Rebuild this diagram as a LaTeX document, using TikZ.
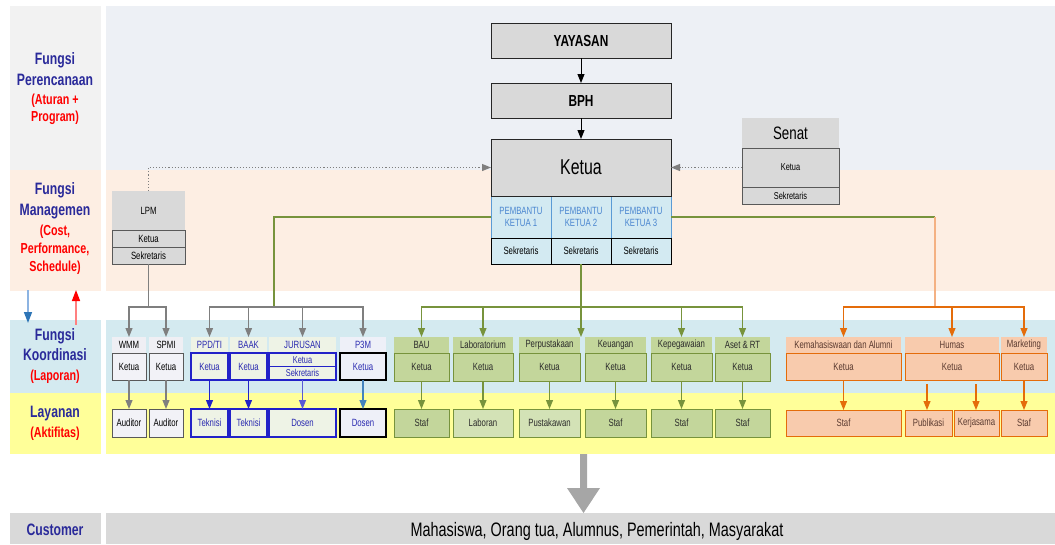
\documentclass[tikz,border=0pt]{standalone}
\usepackage{fontspec}
\setmainfont{Liberation Sans}[FakeStretch=0.74]
\usetikzlibrary{arrows.meta}
\definecolor{bgtop}{HTML}{EDF0F5}
\definecolor{bgleft}{HTML}{F2F2F2}
\definecolor{peach}{HTML}{FDEEE3}
\definecolor{koord}{HTML}{D4EAF0}
\definecolor{yel}{HTML}{FFFF99}
\definecolor{boxgray}{HTML}{D9D9D9}
\definecolor{graydraw}{HTML}{7F7F7F}
\definecolor{lbldark}{HTML}{2A2A9A}
\definecolor{pkblue}{HTML}{5B9BD5}
\definecolor{pkfill}{HTML}{D3EAF2}
\definecolor{pktext}{HTML}{4A86D0}
\definecolor{whfill}{HTML}{EFEFF4}
\definecolor{whbox}{HTML}{F2F2F7}
\definecolor{bfill}{HTML}{EEF3E6}
\definecolor{bdraw}{HTML}{2222C8}
\definecolor{btext}{HTML}{2A2AB0}
\definecolor{pfill}{HTML}{EEF0F8}
\definecolor{olv}{HTML}{77933C}
\definecolor{gfill}{HTML}{C3D69B}
\definecolor{glfill}{HTML}{D3E2B6}
\definecolor{gtext}{HTML}{2B2B2B}
\definecolor{ofill}{HTML}{F8CBAD}
\definecolor{orng}{HTML}{E46C0A}
\definecolor{lorng}{HTML}{F4B183}
\definecolor{otext}{HTML}{5A3A30}
\definecolor{arrblue}{HTML}{2E75B6}
\definecolor{arrbluel}{HTML}{8DB4E2}
\definecolor{arrredl}{HTML}{FF8080}
\definecolor{bigarr}{HTML}{A6A6A6}
\newcommand\mkbox[7]{\node[#6, minimum width={(#4)-(#2)}, minimum height={(#5)-(#3)}] (#1) at ({((#2)+(#4))/2},{((#3)+(#5))/2}) {#7};}
\begin{document}
\begin{tikzpicture}[x=1pt,y=-1pt,
  every node/.style={inner sep=0pt,outer sep=0pt,align=center},
  sm/.style={font=\fontsize{10.5}{12}\selectfont},
  lbl/.style={font=\bfseries\fontsize{16.5}{18}\selectfont,text=lbldark,text height=12pt,text depth=3pt},
  lblr/.style={font=\bfseries\fontsize{14.5}{16}\selectfont,text=red,text height=10.5pt,text depth=3pt},
  grayhdr/.style={fill=boxgray},
  graybox/.style={sm,draw=graydraw!70!black,fill=boxgray,line width=0.9pt},
  topbox/.style={draw=black!85,fill=boxgray,line width=1pt},
  pkbox/.style={draw=pkblue,fill=pkfill,line width=1pt,text=pktext,font=\fontsize{10.5}{12.5}\selectfont},
  skbox/.style={sm,draw=black,fill=pkfill,line width=1pt},
  whdr/.style={sm,fill=whfill},
  wbox/.style={sm,draw=graydraw!70!black,fill=whbox,line width=0.9pt},
  bhdr/.style={sm,fill=bfill,text=btext},
  bbox/.style={sm,draw=bdraw,fill=bfill,text=btext,line width=1.2pt},
  pbox/.style={sm,draw=black,fill=pfill,text=btext,line width=1.2pt},
  ghdr/.style={sm,fill=gfill,text=gtext},
  gbox/.style={sm,draw=olv,fill=gfill,text=gtext,line width=1pt},
  glbox/.style={gbox,fill=glfill},
  ohdr/.style={sm,fill=ofill,text=otext},
  obox/.style={sm,draw=orng,fill=ofill,text=otext,line width=1pt},
  arrowtip/.style={-{Triangle[length=9pt,width=7pt]}},
  gline/.style={draw=graydraw,line width=1.1pt},
  garrow/.style={gline,arrowtip},
  kline/.style={draw=black,line width=1pt},
  karrow/.style={kline,arrowtip},
  oline/.style={draw=olv,line width=1.1pt},
  oarrow/.style={oline,arrowtip},
  orline/.style={draw=orng,line width=1.1pt},
  orarrow/.style={orline,arrowtip},
  barrow/.style={draw=bdraw,line width=1.1pt,arrowtip},
  blarrow/.style={draw=bdraw!75!white,line width=0.9pt,arrowtip},
  parrow/.style={draw=arrblue!90!white,line width=1.1pt,arrowtip},
  dotarrow/.style={draw=graydraw,line width=1.1pt,dotted,arrowtip}
]
\useasboundingbox (0,0) rectangle (1055,544);
% background bands
\fill[bgleft] (10,6) rectangle (101,170);
\fill[peach] (10,170) rectangle (101,291);
\fill[koord] (10,320) rectangle (101,393);
\fill[yel] (10,393) rectangle (101,454);
\fill[boxgray] (10,513) rectangle (101,544);
\fill[bgtop] (106,6) rectangle (1055,170);
\fill[peach] (106,170) rectangle (1055,291);
\fill[koord] (106,320) rectangle (1055,393);
\fill[yel] (106,393) rectangle (1055,454);
\fill[boxgray] (106,513) rectangle (1055,544);
% left labels
\node[lbl] (l1a) at (55,60) {Fungsi};
\node[lbl] (l1b) at (55,81) {Perencanaan};
\node[lblr] (l1c) at (55,101) {(Aturan +};
\node[lblr] (l1d) at (55,118) {Program)};
\node[lbl] (l2a) at (55,190) {Fungsi};
\node[lbl] (l2b) at (55,211) {Managemen};
\node[lblr] (l2c) at (55,232) {(Cost,};
\node[lblr] (l2d) at (55,250) {Performance,};
\node[lblr] (l2e) at (55,268) {Schedule)};
\node[lbl] (l3a) at (55,336) {Fungsi};
\node[lbl] (l3b) at (55,356) {Koordinasi};
\node[lblr] (l3c) at (55,377) {(Laporan)};
\node[lbl] (l4a) at (55,413) {Layanan};
\node[lblr] (l4b) at (55,434) {(Aktifitas)};
\node[lbl] (l5) at (55,531) {Customer};
\coordinate (bd1) at (28,290);
\coordinate (bd2) at (28,323);
\coordinate (rd1) at (76,325);
\coordinate (rd2) at (76,290);
\draw[draw=arrbluel,line width=1.5pt,-{Triangle[length=11pt,width=8pt,color=arrblue]}] (bd1) -- (bd2);
\draw[draw=arrredl,line width=1.5pt,-{Triangle[length=11pt,width=8pt,color=red]}] (rd1) -- (rd2);
% top hierarchy
\mkbox{yayasan}{491}{23}{671}{58}{topbox,font=\bfseries\fontsize{16}{18}\selectfont}{YAYASAN}
\mkbox{bph}{491}{83}{671}{118}{topbox,font=\bfseries\fontsize{16}{18}\selectfont}{BPH}
\mkbox{pk1}{491}{196}{551}{238}{pkbox}{PEMBANTU\\KETUA 1}
\mkbox{pk2}{551}{196}{611}{238}{pkbox}{PEMBANTU\\KETUA 2}
\mkbox{pk3}{611}{196}{671}{238}{pkbox}{PEMBANTU\\KETUA 3}
\mkbox{s1}{491}{238}{551}{264}{skbox}{Sekretaris}
\mkbox{s2}{551}{238}{611}{264}{skbox}{Sekretaris}
\mkbox{s3}{611}{238}{671}{264}{skbox}{Sekretaris}
\mkbox{ketua}{491}{139}{671}{196}{topbox,font=\fontsize{21.5}{24}\selectfont}{Ketua}
\draw[karrow] (yayasan) -- (bph);
\draw[karrow] (bph) -- (ketua);
% Senat
\mkbox{senatT}{742}{118}{839}{148}{grayhdr,font=\fontsize{18}{20}\selectfont}{Senat}
\mkbox{senatK}{742}{148}{839}{187}{graybox,font=\fontsize{10}{11}\selectfont}{Ketua}
\mkbox{senatS}{742}{187}{839}{204}{graybox,font=\fontsize{10}{11}\selectfont}{Sekretaris}
\draw[dotarrow] (senatK.west) -- (senatK.west -| ketua.east);
% LPM
\mkbox{lpmT}{112}{191}{185}{230}{grayhdr,sm}{LPM}
\mkbox{lpmK}{112}{230}{185}{247}{graybox}{Ketua}
\mkbox{lpmS}{112}{247}{185}{264}{graybox}{Sekretaris}
\draw[dotarrow] (lpmT.north) |- (ketua.west);
% WMM / SPMI
\mkbox{wmmH}{112}{337}{146}{353}{whdr}{WMM}
\mkbox{spmiH}{149}{337}{183}{353}{whdr}{SPMI}
\mkbox{wmmK}{112}{353}{146}{380}{wbox}{Ketua}
\mkbox{spmiK}{149}{353}{183}{380}{wbox}{Ketua}
\mkbox{wmmA}{112}{409}{146}{437}{wbox}{Auditor}
\mkbox{spmiA}{149}{409}{183}{437}{wbox}{Auditor}
\coordinate (lj) at (148.5,307);
\draw[gline] (lpmS.south) -- (lj);
\draw[garrow] (lj) -| (wmmH.north);
\draw[garrow] (lj) -| (spmiH.north);
\draw[garrow] (wmmK) -- (wmmA);
\draw[garrow] (spmiK) -- (spmiA);
% blue group
\mkbox{ppdH}{191}{337}{228}{353}{bhdr}{PPD/TI}
\mkbox{baakH}{230}{337}{267}{353}{bhdr}{BAAK}
\mkbox{jurH}{269}{337}{336}{353}{bhdr}{JURUSAN}
\mkbox{p3mH}{340}{337}{386}{353}{bhdr,fill=pfill}{P3M}
\mkbox{ppdK}{191}{353}{228}{380}{bbox}{Ketua}
\mkbox{baakK}{230}{353}{267}{380}{bbox}{Ketua}
\mkbox{jurK}{269}{353}{336}{366.5}{bbox,font=\fontsize{10}{11}\selectfont}{Ketua}
\mkbox{jurS}{269}{366.5}{336}{380}{bbox,font=\fontsize{10}{11}\selectfont}{Sekretaris}
\mkbox{p3mK}{340}{353}{386}{380}{pbox}{Ketua}
\mkbox{ppdT}{191}{409}{228}{437}{bbox}{Teknisi}
\mkbox{baakT}{230}{409}{267}{437}{bbox}{Teknisi}
\mkbox{jurD}{269}{409}{336}{437}{bbox}{Dosen}
\mkbox{p3mD}{340}{409}{386}{437}{pbox}{Dosen}
\coordinate (bc) at (274,217);
\coordinate (bj) at (274,307);
\draw[oline] (pk1.west) -- (bc) -- (bj);
\draw[garrow] (bj) -| (ppdH.north);
\draw[garrow] (bj) -| (baakH.north);
\draw[garrow] (bj) -| (jurH.north);
\draw[garrow] (bj) -| (p3mH.north);
\draw[barrow] (ppdK) -- (ppdT);
\draw[barrow] (baakK) -- (baakT);
\draw[blarrow] (jurS) -- (jurD);
\draw[parrow] (p3mK) -- (p3mD);
% green group
\mkbox{bauH}{394}{337}{449}{353}{ghdr}{BAU}
\mkbox{labH}{453}{337}{513}{353}{ghdr}{Laboratorium}
\mkbox{perpH}{519}{337}{580}{353}{ghdr}{Perpustakaan}
\mkbox{keuH}{585}{337}{646}{353}{ghdr}{Keuangan}
\mkbox{kepH}{651}{337}{712}{353}{ghdr}{Kepegawaian}
\mkbox{asetH}{715}{337}{770}{353}{ghdr}{Aset \& RT}
\mkbox{bauK}{394}{353}{449}{381}{gbox}{Ketua}
\mkbox{labK}{453}{353}{513}{381}{gbox}{Ketua}
\mkbox{perpK}{519}{353}{580}{381}{gbox}{Ketua}
\mkbox{keuK}{585}{353}{646}{381}{gbox}{Ketua}
\mkbox{kepK}{651}{353}{712}{381}{gbox}{Ketua}
\mkbox{asetK}{715}{353}{770}{381}{gbox}{Ketua}
\mkbox{bauS}{394}{409}{449}{437}{gbox}{Staf}
\mkbox{labS}{453}{409}{513}{437}{glbox}{Laboran}
\mkbox{perpS}{519}{409}{580}{437}{glbox}{Pustakawan}
\mkbox{keuS}{585}{409}{646}{437}{gbox}{Staf}
\mkbox{kepS}{651}{409}{712}{437}{gbox}{Staf}
\mkbox{asetS}{715}{409}{770}{437}{gbox}{Staf}
\coordinate (gj) at (581,307);
\draw[oarrow] (s2.south) -- (s2.south |- perpH.north);
\draw[oarrow] (gj) -| (bauH.north);
\draw[oarrow] (gj) -| (labH.north);
\draw[oarrow] (gj) -| (kepH.north);
\draw[oarrow] (gj) -| (asetH.north);
\draw[oarrow] (bauK) -- (bauS);
\draw[oarrow] (labK) -- (labS);
\draw[oarrow] (perpK) -- (perpS);
\draw[oarrow] (keuK) -- (keuS);
\draw[oarrow] (kepK) -- (kepS);
\draw[oarrow] (asetK) -- (asetS);
% orange group
\mkbox{kemH}{786}{337}{901}{353}{ohdr}{Kemahasiswaan dan Alumni}
\mkbox{humH}{905}{337}{999}{353}{ohdr}{Humas}
\mkbox{mktH}{1001}{337}{1047}{353}{ohdr}{Marketing}
\mkbox{kemK}{786}{353}{901}{380}{obox}{Ketua}
\mkbox{humK}{905}{353}{999}{380}{obox}{Ketua}
\mkbox{mktK}{1001}{353}{1047}{380}{obox}{Ketua}
\mkbox{kemS}{786}{410}{901}{436}{obox}{Staf}
\mkbox{pub}{905}{410}{952}{436}{obox}{Publikasi}
\mkbox{ker}{954}{410}{999}{436}{obox}{Kerjasama}
\mkbox{mktS}{1001}{410}{1047}{436}{obox}{Staf}
\coordinate (oc) at (935,217);
\coordinate (oj) at (935,307);
\draw[oline] (pk3.east) -- (oc);
\draw[draw=lorng,line width=1.1pt] (oc) -- (oj);
\draw[orarrow] (oj) -| (kemH.north);
\draw[orarrow] (oj) -| (humH.north);
\draw[orarrow] (oj) -| (mktH.north);
\draw[orarrow] (kemK) -- (kemS);
\coordinate (h1) at (927,384);
\coordinate (h2) at (976,384);
\draw[orarrow] (h1) -- (h1 |- pub.north);
\draw[orarrow] (h2) -- (h2 |- ker.north);
\draw[orarrow] (mktK) -- (mktS);
% customer
\node[font=\fontsize{19.5}{21}\selectfont] (custT) at (597,531) {Mahasiswa, Orang tua, Alumnus, Pemerintah, Masyarakat};
\fill[bigarr] (580,454) -- (587,454) -- (587,488) -- (600,488) -- (583.5,513) -- (567,488) -- (580,488) -- cycle;
\end{tikzpicture}
\end{document}
